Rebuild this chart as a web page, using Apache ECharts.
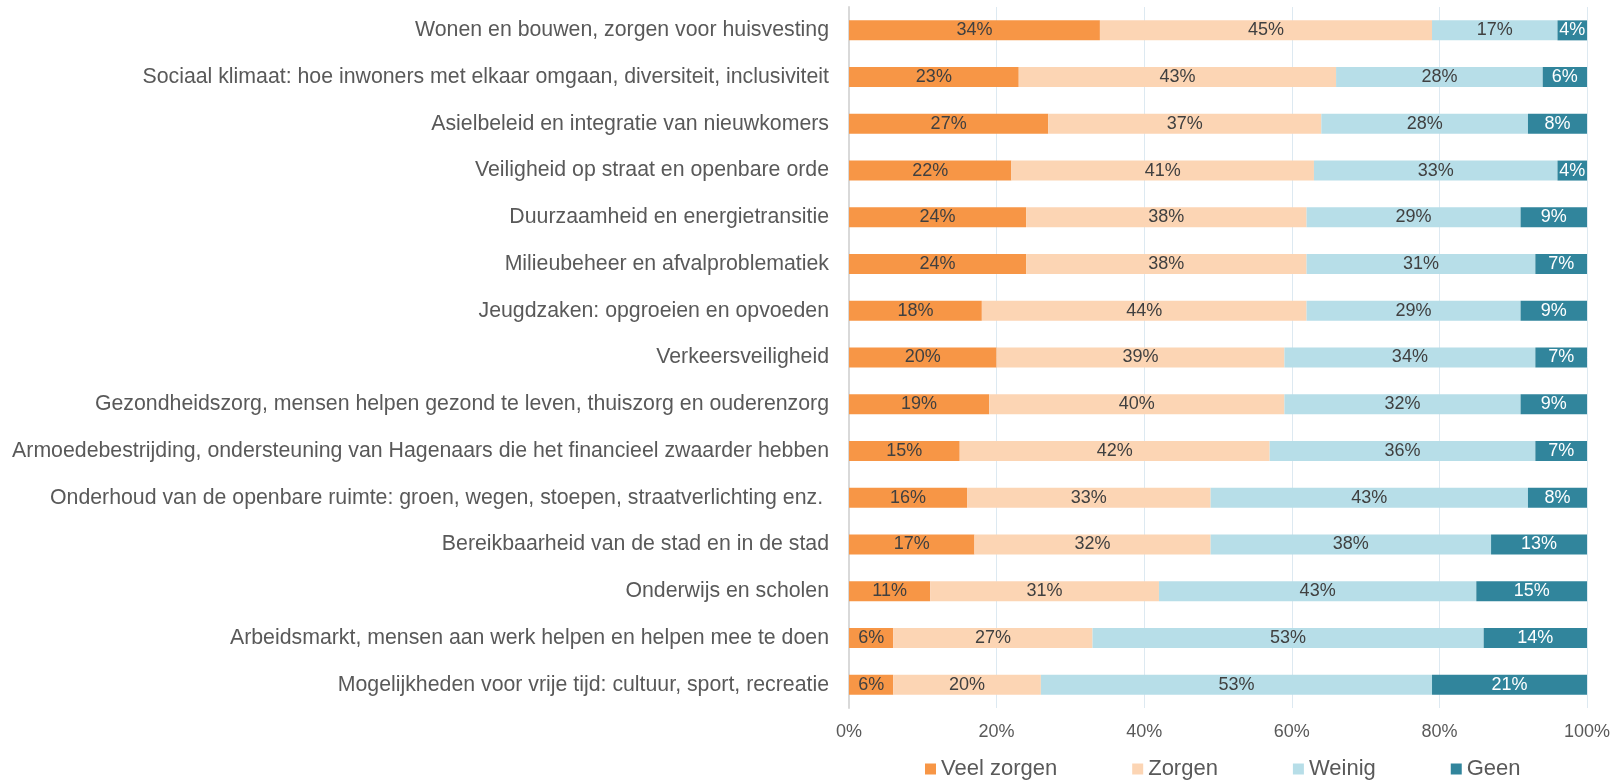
<!DOCTYPE html>
<html>
<head>
<meta charset="utf-8">
<script src="https://cdn.jsdelivr.net/npm/echarts@6/dist/echarts.min.js"></script>
<style>
  html, body { margin: 0; padding: 0; background: #fff; }
  #chart { width: 1623px; height: 783px; }
</style>
</head>
<body>
<div id="chart"></div>
<script>
// onderwerpen, van boven naar beneden
const topics = [
  'Wonen en bouwen, zorgen voor huisvesting',
  'Sociaal klimaat: hoe inwoners met elkaar omgaan, diversiteit, inclusiviteit',
  'Asielbeleid en integratie van nieuwkomers',
  'Veiligheid op straat en openbare orde',
  'Duurzaamheid en energietransitie',
  'Milieubeheer en afvalproblematiek',
  'Jeugdzaken: opgroeien en opvoeden',
  'Verkeersveiligheid',
  'Gezondheidszorg, mensen helpen gezond te leven, thuiszorg en ouderenzorg',
  'Armoedebestrijding, ondersteuning van Hagenaars die het financieel zwaarder hebben',
  'Onderhoud van de openbare ruimte: groen, wegen, stoepen, straatverlichting enz. ',
  'Bereikbaarheid van de stad en in de stad',
  'Onderwijs en scholen',
  'Arbeidsmarkt, mensen aan werk helpen en helpen mee te doen',
  'Mogelijkheden voor vrije tijd: cultuur, sport, recreatie'
];

const veelZorgen = [34, 23, 27, 22, 24, 24, 18, 20, 19, 15, 16, 17, 11, 6, 6];
const zorgen     = [45, 43, 37, 41, 38, 38, 44, 39, 40, 42, 33, 32, 31, 27, 20];
const weinig     = [17, 28, 28, 33, 29, 31, 29, 34, 32, 36, 43, 38, 43, 53, 53];
const geen       = [4, 6, 8, 4, 9, 7, 9, 7, 9, 7, 8, 13, 15, 14, 21];

const xTicks = [0, 20, 40, 60, 80, 100];

const chart = echarts.init(document.getElementById('chart'));

// één serie per antwoordcategorie
const makeSeries = (name, data, color, labelColor) => ({
  name: name,
  type: 'bar',
  stack: 'totaal',
  data: data,
  barWidth: 20,
  itemStyle: { color: color },
  label: {
    show: true,
    position: 'inside',
    formatter: '{c}%',
    fontFamily: 'Liberation Sans, Arial, sans-serif',
    fontSize: 18,
    color: labelColor
  }
});

const option = {
  animation: false,
  grid: {
    left: 849,
    right: 36,
    top: 7,
    bottom: 75
  },
  legend: {
    left: 920,
    top: 753,
    icon: 'rect',
    itemWidth: 11,
    itemHeight: 11,
    itemGap: 75,
    textStyle: {
      fontFamily: 'Liberation Sans, Arial, sans-serif',
      fontSize: 22,
      color: '#595959'
    }
  },
  xAxis: {
    type: 'value',
    min: xTicks[0],
    max: xTicks[xTicks.length - 1],
    interval: 20,
    axisLine: { show: false },
    axisTick: { show: false },
    splitLine: { lineStyle: { color: '#dde9f1', width: 1 } },
    axisLabel: {
      formatter: '{value}%',
      margin: 15,
      fontFamily: 'Liberation Sans, Arial, sans-serif',
      fontSize: 18,
      color: '#595959'
    }
  },
  yAxis: {
    type: 'category',
    data: topics,
    inverse: true,
    axisTick: { show: false },
    axisLine: { show: true, lineStyle: { color: '#d9d9d9', width: 2 } },
    axisLabel: {
      margin: 20,
      fontFamily: 'Liberation Sans, Arial, sans-serif',
      fontSize: 21.3,
      color: '#595959'
    }
  },
  series: [
    makeSeries('Veel zorgen', veelZorgen, '#f79646', '#404040'),
    makeSeries('Zorgen', zorgen, '#fcd5b4', '#404040'),
    makeSeries('Weinig', weinig, '#b7dee8', '#404040'),
    makeSeries('Geen', geen, '#31859c', '#ffffff')
  ]
};

chart.setOption(option);
</script>
</body>
</html>
